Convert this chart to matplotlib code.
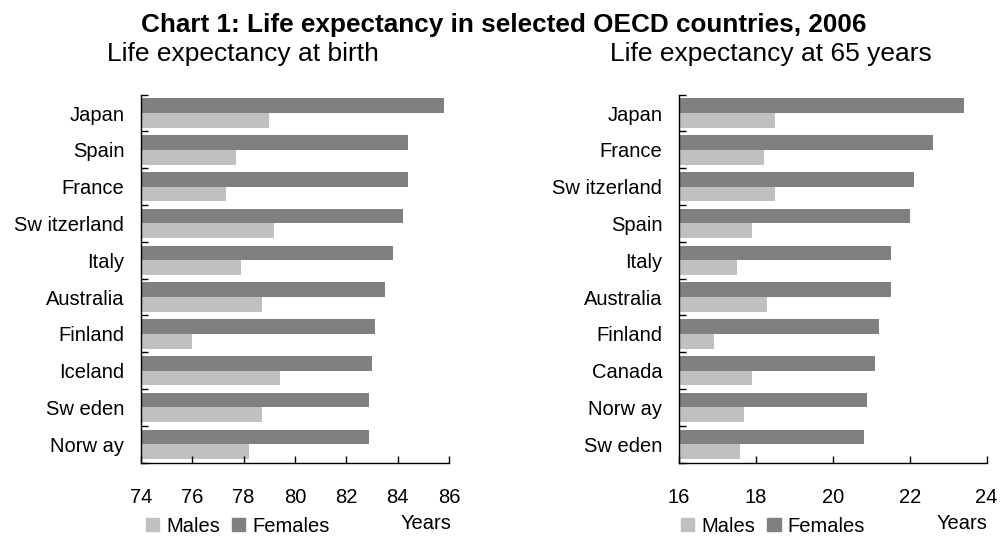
import numpy as np
import matplotlib
matplotlib.use("Agg")
import matplotlib.pyplot as plt
from matplotlib.patches import Patch

plt.rcParams["font.family"] = ["Liberation Sans", "DejaVu Sans"]

# life expectancy at birth, 2006
birth_countries = ["Japan", "Spain", "France", "Sw itzerland", "Italy",
                   "Australia", "Finland", "Iceland", "Sw eden", "Norw ay"]
birth_females = [85.8, 84.4, 84.4, 84.2, 83.8, 83.5, 83.1, 83.0, 82.9, 82.9]
birth_males = [79.0, 77.7, 77.3, 79.2, 77.9, 78.7, 76.0, 79.4, 78.7, 78.2]
birth_ticks = [74, 76, 78, 80, 82, 84, 86]

# life expectancy at 65, 2006
at65_countries = ["Japan", "France", "Sw itzerland", "Spain", "Italy",
                  "Australia", "Finland", "Canada", "Norw ay", "Sw eden"]
at65_females = [23.4, 22.6, 22.1, 22.0, 21.5, 21.5, 21.2, 21.1, 20.9, 20.8]
at65_males = [18.5, 18.2, 18.5, 17.9, 17.5, 18.3, 16.9, 17.9, 17.7, 17.6]
at65_ticks = [16, 18, 20, 22, 24]

MALE_C = "#c0c0c0"
FEMALE_C = "#808080"
FS = 14.5


def draw_panel(ax, countries, females, males, ticks):
    n = len(countries)
    y = np.arange(n)[::-1]
    lo = ticks[0]
    h = 0.4
    ax.barh(y + h / 2, np.array(females) - lo, left=lo, height=h,
            color=FEMALE_C, label="Females")
    ax.barh(y - h / 2, np.array(males) - lo, left=lo, height=h,
            color=MALE_C, label="Males")

    ax.set_xlim(ticks[0], ticks[-1])
    ax.set_ylim(-0.5, n - 0.5)
    ax.set_xticks(ticks)
    ax.set_yticks(y)
    ax.set_yticklabels(countries)
    ax.set_yticks(np.arange(n + 1) - 0.5, minor=True)

    for s in ["top", "right"]:
        ax.spines[s].set_visible(False)
    for s in ["left", "bottom"]:
        ax.spines[s].set_linewidth(1.0)
        ax.spines[s].set_color("black")

    ax.tick_params(axis="y", which="major", length=0, pad=12, labelsize=FS)
    ax.tick_params(axis="y", which="minor", direction="in", length=5, width=1)
    ax.tick_params(axis="x", direction="in", length=5, width=1, pad=18,
                   labelsize=FS)


fig = plt.figure(figsize=(10.02, 5.37), dpi=100)
ax1 = fig.add_axes([0.1407, 0.1384, 0.3074, 0.6853])
ax2 = fig.add_axes([0.6776, 0.1384, 0.3071, 0.6853])

draw_panel(ax1, birth_countries, birth_females, birth_males, birth_ticks)
draw_panel(ax2, at65_countries, at65_females, at65_males, at65_ticks)

fig.text(0.503, 0.953, "Chart 1: Life expectancy in selected OECD countries, 2006",
         ha="center", va="center", fontsize=18.8, fontweight="bold")
fig.text(0.1068, 0.899, "Life expectancy at birth", ha="left", va="center",
         fontsize=19)
fig.text(0.6088, 0.899, "Life expectancy at 65 years", ha="left", va="center",
         fontsize=19)

handles = [Patch(color=MALE_C, label="Males"),
           Patch(color=FEMALE_C, label="Females")]
for x in (0.146, 0.68):
    fig.legend(handles=handles, loc="center left", bbox_to_anchor=(x, 0.02),
               ncol=2, frameon=False, fontsize=FS, handlelength=0.65,
               handleheight=0.65, handletextpad=0.35, columnspacing=0.6,
               borderpad=0, borderaxespad=0)

fig.text(0.4247, 0.026, "Years", ha="center", va="center", fontsize=FS)
fig.text(0.9596, 0.026, "Years", ha="center", va="center", fontsize=FS)

fig.savefig("out.png", dpi=100)
